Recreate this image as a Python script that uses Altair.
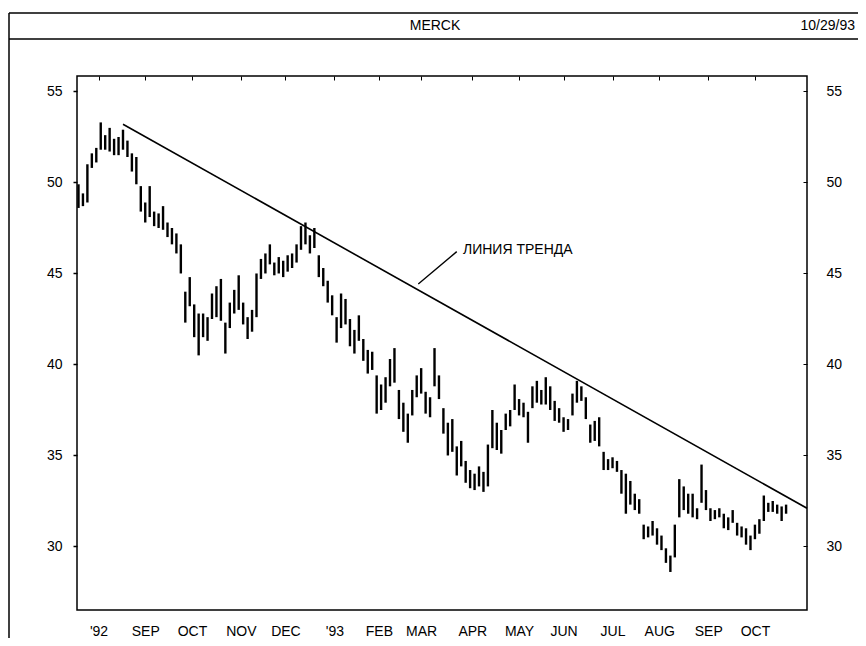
import json
import altair as alt
import pandas as pd

# ---------------- data ----------------
title_text = "MERCK"
date_text = "10/29/93"
annotation_text = "ЛИНИЯ ТРЕНДА"

# trading-day index of each bar (every second session)
bar_index = list(range(0, 320, 2))
bar_high = [
    49.9, 49.4, 51.0, 51.6, 51.9, 53.3, 52.6, 53.0, 52.4, 52.5,
    52.9, 52.3, 51.6, 51.4, 49.8, 48.9, 49.8, 48.4, 48.3, 48.7,
    47.8, 47.5, 47.2, 46.6, 44.0, 44.8, 43.3, 42.8, 42.8, 42.6,
    43.9, 44.3, 44.7, 42.3, 43.4, 44.1, 44.9, 43.4, 42.6, 43.0,
    45.0, 45.8, 46.1, 46.6, 45.6, 45.9, 45.7, 46.0, 46.1, 46.6,
    47.6, 47.8, 47.1, 47.5, 46.0, 45.3, 44.6, 43.8, 42.6, 43.9,
    43.6, 42.5, 41.9, 42.7, 41.4, 40.8, 40.7, 39.4, 38.9, 39.3,
    40.3, 40.9, 38.6, 37.9, 37.3, 38.6, 39.4, 39.8, 38.5, 38.2,
    40.9, 39.4, 37.6, 36.8, 37.0, 35.5, 35.8, 34.7, 34.2, 34.0,
    34.4, 34.1, 35.6, 37.5, 36.8, 36.4, 37.3, 37.5, 38.9, 38.1,
    37.9, 37.4, 38.8, 39.1, 38.6, 39.3, 38.8, 38.0, 37.6, 37.1,
    37.0, 38.4, 39.1, 38.8, 38.2, 36.7, 36.9, 37.1, 35.2, 34.8,
    34.9, 34.7, 34.2, 34.0, 33.6, 32.9, 32.6, 31.2, 31.1, 31.4,
    31.0, 30.6, 29.9, 29.5, 31.2, 33.7, 33.3, 32.9, 32.9, 32.1,
    34.5, 33.1, 32.1, 32.0, 32.1, 31.8, 31.6, 32.0, 31.3, 31.1,
    31.0, 30.6, 31.2, 31.5, 32.8, 32.4, 32.5, 32.3, 32.2, 32.3,
]
bar_low = [
    48.6, 48.7, 48.9, 50.8, 51.1, 51.8, 51.8, 51.7, 51.5, 51.5,
    51.8, 51.4, 50.6, 49.9, 48.4, 47.8, 48.1, 47.6, 47.5, 47.4,
    47.0, 46.6, 46.1, 45.0, 42.3, 43.2, 41.5, 40.5, 41.5, 41.3,
    42.5, 42.6, 42.4, 40.6, 42.0, 42.8, 43.0, 42.2, 41.4, 41.8,
    42.6, 44.7, 45.0, 45.5, 44.9, 45.0, 44.8, 45.1, 45.3, 45.6,
    46.3, 46.6, 46.1, 46.4, 44.8, 44.3, 43.4, 42.7, 41.2, 42.0,
    42.2, 41.0, 40.6, 41.3, 40.2, 39.5, 39.7, 37.3, 37.5, 37.9,
    38.8, 39.0, 37.0, 36.3, 35.7, 37.2, 38.2, 38.4, 37.3, 37.1,
    38.8, 38.1, 36.2, 35.0, 35.2, 33.9, 34.4, 33.5, 33.2, 33.1,
    33.3, 33.0, 33.3, 35.4, 35.3, 35.1, 36.4, 36.6, 37.5, 37.2,
    37.1, 35.7, 37.6, 37.9, 37.8, 37.8, 37.5, 36.9, 36.8, 36.3,
    36.4, 37.2, 37.9, 38.0, 37.0, 35.7, 35.8, 35.5, 34.2, 34.2,
    34.3, 34.1, 32.9, 31.8, 32.3, 32.0, 31.8, 30.4, 30.5, 30.6,
    30.1, 29.8, 29.1, 28.6, 29.4, 31.6, 32.0, 31.8, 31.6, 31.5,
    32.4, 32.0, 31.4, 31.5, 31.6, 31.0, 30.9, 31.3, 30.6, 30.5,
    30.1, 29.8, 30.4, 30.7, 31.4, 31.9, 31.9, 31.8, 31.4, 31.8,
]

# first session of each month (trading-day index) and its label
month_ticks = [9, 30, 51, 73, 93, 115, 135, 154, 177, 198, 218, 240, 261, 283, 304]
month_labels = ["'92", "SEP", "OCT", "NOV", "DEC", "'93", "FEB", "MAR",
                "APR", "MAY", "JUN", "JUL", "AUG", "SEP", "OCT"]

price_ticks = [30, 35, 40, 45, 50, 55]

# trend line and its annotation pointer (index, price)
trend_t = [20, 327.4]
trend_p = [53.2, 32.1]
pointer_t = [152.7, 170.0]
pointer_p = [44.42, 46.2]
label_t = [172.8]
label_p = [46.3]

# ---------------- chart ----------------
FONT = "Liberation Sans Narrow, Liberation Sans, Arial, sans-serif"
W, H = 730, 534

xs = alt.Scale(domain=[-0.67, 327.4], nice=False, zero=False)
ys = alt.Scale(domain=[26.51, 55.85], nice=False, zero=False)

label_expr = f"{json.dumps(month_labels)}[indexof({json.dumps(month_ticks)}, datum.value)]"

bars = pd.DataFrame({"t": bar_index, "high": bar_high, "low": bar_low})
trend = pd.DataFrame({"t": trend_t, "p": trend_p})
pointer = pd.DataFrame({"t": pointer_t, "p": pointer_p})
label_df = pd.DataFrame({"t": label_t, "p": label_p, "txt": [annotation_text]})
one = pd.DataFrame({"title": [title_text], "date": [date_text]})

common_axis = dict(domain=False, grid=False, title=None, labelFont=FONT,
                   labelFontSize=14, labelColor="black", tickColor="black")

bar_layer = alt.Chart(bars).mark_rule(color="black", strokeWidth=2.4).encode(
    x=alt.X("t:Q", scale=xs, axis=alt.Axis(
        values=month_ticks, labelExpr=label_expr, tickSize=0, labelPadding=14,
        labelFlush=False, labelOverlap=False, **common_axis)),
    y=alt.Y("low:Q", scale=ys, axis=alt.Axis(
        orient="left", values=price_ticks, tickSize=4, tickWidth=1.5,
        labelPadding=11, **common_axis)),
    y2="high:Q",
)

trend_layer = alt.Chart(trend).mark_line(color="black", strokeWidth=1.6).encode(
    x=alt.X("t:Q", scale=xs, axis=alt.Axis(
        values=month_ticks, labels=False, tickSize=4, offset=-4, **common_axis)),
    y=alt.Y("p:Q", scale=ys, axis=alt.Axis(
        orient="right", values=price_ticks, tickSize=0, labelPadding=19,
        **common_axis)),
)

pointer_layer = alt.Chart(pointer).mark_line(color="black", strokeWidth=1.4).encode(
    x=alt.X("t:Q", scale=xs, axis=None),
    y=alt.Y("p:Q", scale=ys, axis=alt.Axis(
        orient="right", values=price_ticks, labels=False, tickSize=4,
        offset=-4, **common_axis)),
)

label_layer = alt.Chart(label_df).mark_text(
    align="left", baseline="middle", font=FONT, fontSize=14, color="black"
).encode(
    x=alt.X("t:Q", scale=xs, axis=None),
    y=alt.Y("p:Q", scale=ys, axis=None),
    text="txt:N",
)

# outer frame and header band
frame_left = alt.Chart(one).mark_rule(color="black", strokeWidth=1.5).encode(
    x=alt.value(-68), y=alt.value(-63), y2=alt.value(562))
frame_top = alt.Chart(one).mark_rule(color="black", strokeWidth=1.5).encode(
    x=alt.value(-68), x2=alt.value(781), y=alt.value(-63))
frame_sep = alt.Chart(one).mark_rule(color="black", strokeWidth=1.5).encode(
    x=alt.value(-68), x2=alt.value(781), y=alt.value(-37))
title_layer = alt.Chart(one).mark_text(
    align="center", baseline="middle", font=FONT, fontSize=14, color="black"
).encode(x=alt.value(358), y=alt.value(-50), text="title:N")
date_layer = alt.Chart(one).mark_text(
    align="right", baseline="middle", font=FONT, fontSize=14, color="black"
).encode(x=alt.value(778), y=alt.value(-50), text="date:N")

chart = alt.layer(
    bar_layer, trend_layer, pointer_layer, label_layer,
    frame_left, frame_top, frame_sep, title_layer, date_layer,
).resolve_axis(
    x="independent", y="independent"
).properties(
    width=W, height=H,
    autosize=alt.AutoSizeParams(type="none"),
    padding={"left": 69, "top": 68, "right": 51, "bottom": 28},
    background="white",
).configure_view(stroke="black", strokeWidth=1.5)

chart.save("out.html", embed_options={"renderer": "svg", "actions": False})
